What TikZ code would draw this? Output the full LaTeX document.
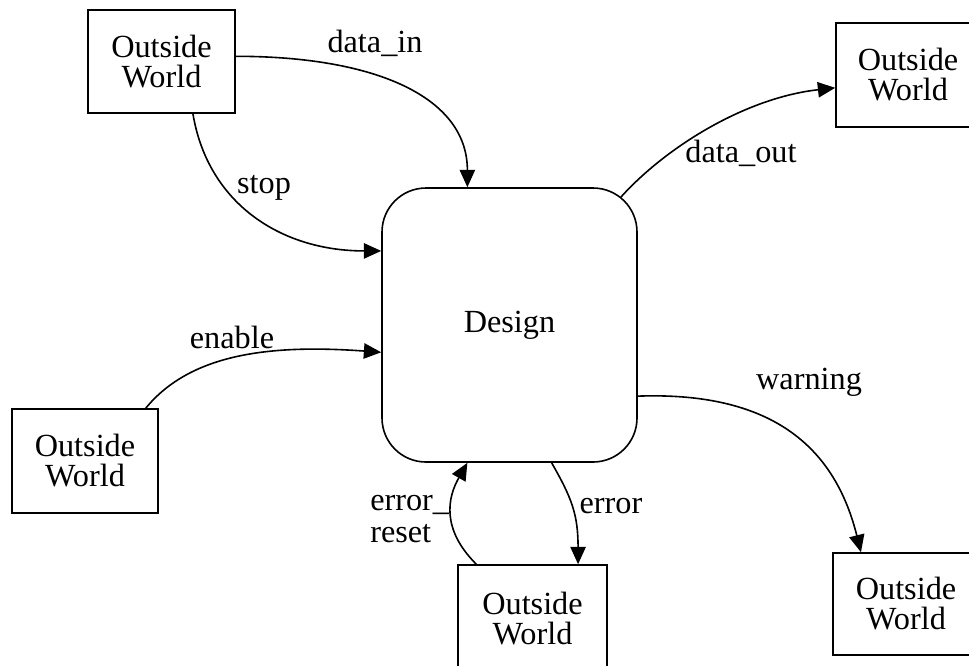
\documentclass[tikz,border=0pt]{standalone}
\usepackage{fontspec}
\setmainfont{Liberation Serif}
\usetikzlibrary{arrows.meta,calc}
\begin{document}
\begin{tikzpicture}[x=0.75pt,y=-0.75pt,
  every node/.style={font=\fontsize{24.2}{22.5}\selectfont},
  world/.style={draw, line width=1.2pt, align=center, inner sep=0pt},
  design/.style={draw, line width=1.2pt, rounded corners=33pt,
    minimum width=191.25pt, minimum height=205.5pt, inner sep=0pt},
  flow/.style={line width=1.2pt, -{Triangle[length=13pt,width=11.5pt]}},
  lbl/.style={anchor=base, inner sep=0pt}]

\useasboundingbox (0,0) rectangle (969,665);
\clip (0,0) rectangle (969,665);

% central block
\node[design] (dz) at (509.5,325) {Design};

% external entities
\node[world, minimum width=110.25pt, minimum height=77.25pt] (owTL) at (161.5,61.5) {Outside\\World};
\node[world, minimum width=108pt, minimum height=78pt] (owTR) at (908,75) {Outside\\World};
\node[world, minimum width=109.5pt, minimum height=78pt] (owL) at (85,461) {Outside\\World};
\node[world, minimum width=111.75pt, minimum height=80.25pt] (owB) at (532.5,618.5) {Outside\\World};
\node[world, minimum width=109.5pt, minimum height=76.5pt] (owBR) at (906,604) {Outside\\World};

% signals
\draw[flow] (owTL.4) .. controls +(140,0) and +(0,-90) .. (dz.107);
\draw[flow] (owTL.-59) .. controls +(15,90) and +(-100,0) .. (dz.150);
\draw[flow] ($(dz.north east)+(-17,10)$) .. controls +(45,-50) and +(-90,10) .. (owTR.190);
\draw[flow] (owL.41) .. controls +(45,-55) and +(-110,-8) .. (dz.192);
\draw[flow] (dz.-29) .. controls +(140,-5) and +(-25,-100) .. (owBR.131);
\draw[flow] (dz.-73) .. controls +(20,35) and +(0,-50) .. (owB.50);
\draw[flow] (owB.136) .. controls +(-35,-35) and +(-20,35) .. (dz.253);

% signal names
\node[lbl] (tDataIn) at (375,52) {data\_in};
\node[lbl] (tStop) at (264,193) {stop};
\node[lbl] (tDataOut) at (741,162) {data\_out};
\node[lbl] (tEnable) at (232,348) {enable};
\node[lbl] (tWarning) at (809,389) {warning};
\node[lbl] (tError) at (611,513) {error};
\node[lbl, anchor=base west] (tReset1) at (370,510) {error\_};
\node[lbl, anchor=base west] (tReset2) at (370,542) {reset};
\end{tikzpicture}
\end{document}
